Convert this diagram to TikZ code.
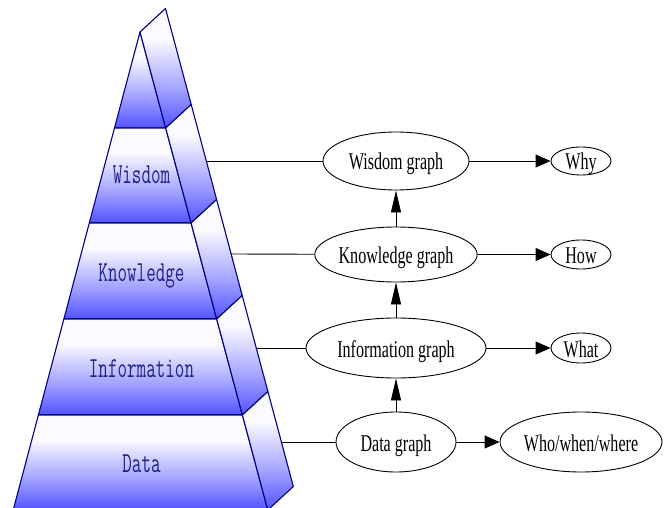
\documentclass[tikz,border=0pt]{standalone}
\usepackage{fontspec}
\usepackage{graphicx}
\usetikzlibrary{shapes.geometric,arrows.meta}
\newfontfamily\graphfont{Liberation Serif}
\definecolor{pblue}{RGB}{82,82,255}
\definecolor{pmid}{RGB}{165,165,255}
\definecolor{pwhite}{RGB}{250,250,255}
\definecolor{pnavy}{RGB}{0,0,130}
\definecolor{ptext}{RGB}{35,35,135}
\pgfdeclareverticalshading{pyrshade}{100bp}{color(0bp)=(pblue); color(25bp)=(pblue); color(42bp)=(pmid); color(62bp)=(pwhite); color(100bp)=(pwhite)}
\begin{document}
\begin{tikzpicture}[x=1pt,y=-1pt,
  face/.style={draw=pnavy, line width=1.1pt, shading=pyrshade, line join=round},
  plabel/.style={text=ptext, inner sep=0pt, anchor=base, font=\ttfamily\fontsize{29}{32}\selectfont},
  gnode/.style={ellipse, draw, line width=0.9pt, inner sep=0pt, text height=18pt, text depth=0pt,
    font=\graphfont\fontsize{24}{28}\selectfont},
  link/.style={line width=0.9pt},
  harrow/.style={link, -{Triangle[length=15pt,width=13pt]}},
  varrow/.style={link, -{Triangle[length=22pt,width=10pt]}}]
\useasboundingbox (0,0) rectangle (667,508);
% pyramid front faces
\path[face] (140,32) -- (165.7,128) -- (114.5,128) -- cycle;
\path[face] (114.5,128) -- (165.7,128) -- (191.1,223) -- (89.3,223) -- cycle;
\path[face] (89.3,223) -- (191.1,223) -- (216.7,319) -- (63.9,319) -- cycle;
\path[face] (63.9,319) -- (216.7,319) -- (242.4,415) -- (38.4,415) -- cycle;
\path[face] (38.4,415) -- (242.4,415) -- (267.8,510) -- (13.2,510) -- cycle;
% pyramid right faces
\path[face] (140,32) -- (165.5,8.5) -- (191.2,104.5) -- (165.7,128) -- cycle;
\path[face] (165.7,128) -- (191.2,104.5) -- (216.6,199.5) -- (191.1,223) -- cycle;
\path[face] (191.1,223) -- (216.6,199.5) -- (242.2,295.5) -- (216.7,319) -- cycle;
\path[face] (216.7,319) -- (242.2,295.5) -- (267.9,391.5) -- (242.4,415) -- cycle;
\path[face] (242.4,415) -- (267.9,391.5) -- (293.3,486.5) -- (267.8,510) -- cycle;
% pyramid labels
\node[plabel] (lw) at (141.5,184) {\scalebox{0.64}[1]{Wisdom}};
\node[plabel] (lk) at (141.5,281) {\scalebox{0.64}[1]{Knowledge}};
\node[plabel] (li) at (141.5,377) {\scalebox{0.64}[1]{Information}};
\node[plabel] (ld) at (141.5,472) {\scalebox{0.64}[1]{Data}};
% link start points on the pyramid
\coordinate (sw) at (206.3,161);
\coordinate (sk) at (231.1,254);
\coordinate (si) at (256.3,348);
\coordinate (sd) at (281.4,442);
% graph nodes
\node[gnode, minimum width=146pt, minimum height=58pt] (wg) at (396,161) {\scalebox{0.67}[1]{Wisdom graph}};
\node[gnode, minimum width=160pt, minimum height=55pt] (kg) at (396,254.5) {\scalebox{0.67}[1]{Knowledge graph}};
\node[gnode, minimum width=180pt, minimum height=60pt] (ig) at (396,348) {\scalebox{0.67}[1]{Information graph}};
\node[gnode, minimum width=120pt, minimum height=60pt] (dg) at (396,442) {\scalebox{0.67}[1]{Data graph}};
\node[gnode, minimum width=60pt, minimum height=28pt] (why) at (581,161) {\scalebox{0.67}[1]{Why}};
\node[gnode, minimum width=60pt, minimum height=29pt] (how) at (581,254.5) {\scalebox{0.67}[1]{How}};
\node[gnode, minimum width=60pt, minimum height=30pt] (what) at (581,348) {\scalebox{0.67}[1]{What}};
\node[gnode, minimum width=162pt, minimum height=60pt] (www) at (581,442) {\scalebox{0.67}[1]{Who/when/where}};
% connectors
\draw[link] (sw) -- (wg);
\draw[link] (sk) -- (kg);
\draw[link] (si) -- (ig);
\draw[link] (sd) -- (dg);
\draw[harrow] (wg) -- (why);
\draw[harrow] (kg) -- (how);
\draw[harrow] (ig) -- (what);
\draw[harrow] (dg) -- (www);
\draw[varrow] (dg) -- (ig);
\draw[varrow] (ig) -- (kg);
\draw[varrow] (kg) -- (wg);
\end{tikzpicture}
\end{document}
